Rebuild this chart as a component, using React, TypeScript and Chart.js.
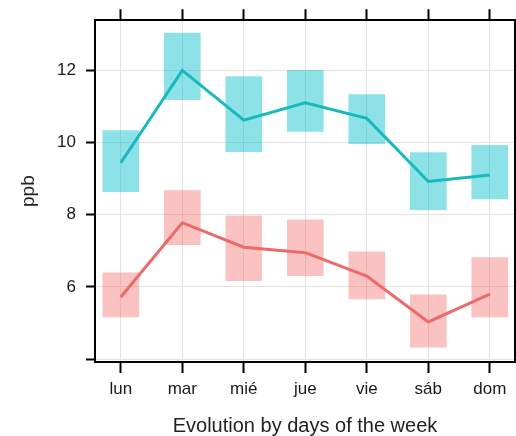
import React, { useEffect, useRef } from "react";
import { Chart, registerables } from "chart.js";

Chart.register(...registerables);

const days = ["lun", "mar", "mié", "jue", "vie", "sáb", "dom"];
const cyanMean = [9.44, 12.0, 10.62, 11.1, 10.67, 8.92, 9.1];
const cyanLow = [8.64, 11.19, 9.75, 10.31, 9.97, 8.14, 8.44];
const cyanHigh = [10.33, 13.03, 11.83, 12.0, 11.33, 9.72, 9.92];
const redMean = [5.72, 7.78, 7.1, 6.95, 6.3, 5.03, 5.8];
const redLow = [5.17, 7.17, 6.17, 6.31, 5.67, 4.33, 5.17];
const redHigh = [6.39, 8.67, 7.97, 7.86, 6.97, 5.78, 6.81];
const yTicks = [4, 6, 8, 10, 12];
const yLabels = ["", "6", "8", "10", "12"];
const yTitle = "ppb";
const xTitle = "Evolution by days of the week";

const FONT = "'Liberation Sans', Arial, Helvetica, sans-serif";

export default function App() {
  const ref = useRef<HTMLCanvasElement | null>(null);

  useEffect(() => {
    if (!ref.current) return;
    const xTickValues = days.map((_, i) => ({ value: i }));
    const chart = new Chart(ref.current, {
      type: "bar",
      data: {
        datasets: [
          {
            type: "line",
            data: cyanMean.map((v, i) => ({ x: i, y: v })),
            borderColor: "#17b9be",
            borderWidth: 3,
            pointRadius: 0,
            order: 1,
          } as any,
          {
            type: "line",
            data: redMean.map((v, i) => ({ x: i, y: v })),
            borderColor: "#ec6a6a",
            borderWidth: 3,
            pointRadius: 0,
            order: 1,
          } as any,
          {
            type: "bar",
            data: cyanLow.map((v, i) => ({ x: i, y: [v, cyanHigh[i]] })),
            backgroundColor: "rgba(0,190,200,0.45)",
            borderWidth: 0,
            barThickness: 36,
            grouped: false,
            order: 2,
          } as any,
          {
            type: "bar",
            data: redLow.map((v, i) => ({ x: i, y: [v, redHigh[i]] })),
            backgroundColor: "rgba(245,110,110,0.42)",
            borderWidth: 0,
            barThickness: 36,
            grouped: false,
            order: 2,
          } as any,
        ],
      },
      options: {
        animation: false,
        responsive: false,
        plugins: { legend: { display: false }, tooltip: { enabled: false } },
        layout: { padding: 0 },
        scales: {
          x: {
            type: "linear",
            position: "bottom",
            offset: false,
            min: -0.42,
            max: 6.41,
            afterBuildTicks: (s: any) => {
              s.ticks = xTickValues.map((t) => ({ ...t }));
            },
            afterFit: (s: any) => {
              s.height = 74;
            },
            ticks: {
              callback: (v: any) => days[Math.round(Number(v))] ?? "",
              font: { family: FONT, size: 17 },
              color: "#1a1a1a",
              padding: 6,
              maxRotation: 0,
              autoSkip: false,
            },
            grid: { offset: false, color: "#e2e2e2", tickColor: "#000", tickLength: 11, lineWidth: 1, tickWidth: 2 },
            border: { display: true, color: "#000", width: 2 },
            title: {
              display: true,
              text: xTitle,
              font: { family: FONT, size: 20, lineHeight: 1 },
              color: "#222",
              padding: { top: 0, bottom: 0 },
            },
          } as any,
          x2: {
            type: "linear",
            position: "top",
            offset: false,
            min: -0.42,
            max: 6.41,
            afterBuildTicks: (s: any) => {
              s.ticks = xTickValues.map((t) => ({ ...t }));
            },
            afterFit: (s: any) => {
              s.height = 19;
            },
            ticks: { display: false },
            grid: { offset: false, drawOnChartArea: false, tickColor: "#000", tickLength: 11, tickWidth: 2 },
            border: { display: true, color: "#000", width: 2 },
          } as any,
          y: {
            type: "linear",
            position: "left",
            min: 3.92,
            max: 13.39,
            afterBuildTicks: (s: any) => {
              s.ticks = yTicks.map((v) => ({ value: v }));
            },
            afterFit: (s: any) => {
              s.width = 95;
            },
            ticks: {
              callback: (v: any) => {
                const idx = yTicks.indexOf(Number(v));
                return idx >= 0 ? yLabels[idx] : "";
              },
              font: { family: FONT, size: 17 },
              color: "#1a1a1a",
              padding: 10,
            },
            grid: { color: "#e2e2e2", tickColor: "#000", tickLength: 9, lineWidth: 1, tickWidth: 2 },
            border: { display: true, color: "#000", width: 2 },
            title: {
              display: true,
              text: yTitle,
              font: { family: FONT, size: 19, lineHeight: 1.2 },
              color: "#222",
              padding: { top: 17, bottom: 0 },
            },
          } as any,
          y2: {
            type: "linear",
            position: "right",
            min: 3.92,
            max: 13.39,
            afterFit: (s: any) => {
              s.width = 1;
            },
            ticks: { display: false },
            grid: { drawOnChartArea: false, drawTicks: false },
            border: { display: true, color: "#000", width: 2 },
          } as any,
        },
      },
    });
    return () => chart.destroy();
  }, []);

  return (
    <div style={{ position: "absolute", left: 0, top: 0, width: 516, height: 436, background: "#fff" }}>
      <canvas ref={ref} width={516} height={436} style={{ width: 516, height: 436, display: "block" }} />
    </div>
  );
}
